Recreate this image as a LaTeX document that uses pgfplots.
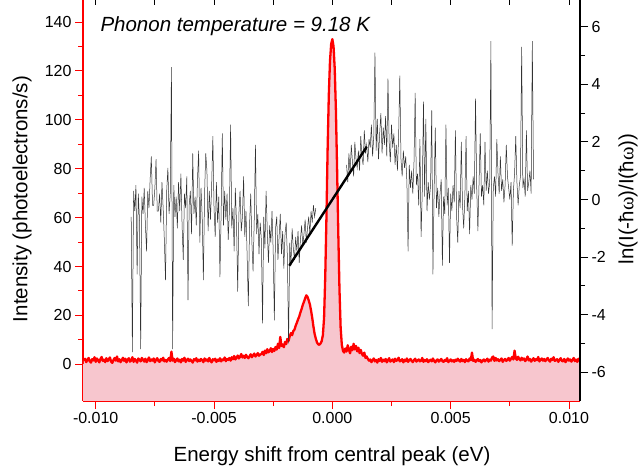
\documentclass[border=0pt]{standalone}
\usepackage{fontspec}
\setmainfont{Liberation Sans}
\newfontfamily\serifw{Liberation Serif}
\usepackage{pgfplots}
\pgfplotsset{compat=1.18}
\usepackage{pgfplotstable}
\definecolor{pinkfill}{RGB}{247,198,206}
\definecolor{myred}{RGB}{255,0,0}

% red spectrum, x = -0.0105 + 0.00005*i
\pgfplotstableread{
y
1.5
2.3
0.9
1.8
2.6
1.2
0.7
2.1
1.6
2.9
1.0
2.4
1.7
0.8
2.2
3.0
1.4
1.9
0.9
2.5
1.3
2.0
2.8
1.1
0.6
1.8
2.6
1.5
3.2
1.2
2.1
0.9
1.7
2.7
1.4
2.3
0.8
1.9
2.5
1.1
1.6
2.9
1.0
2.2
1.5
0.7
2.4
1.8
1.2
2.6
1.9
1.1
2.3
0.9
1.7
2.8
1.3
2.0
1.5
2.4
0.8
1.9
2.5
1.4
1.0
2.2
1.6
2.7
1.2
1.8
1.1
2.0
2.6
1.3
5.2
1.5
2.3
0.9
1.7
2.4
1.2
1.9
0.8
2.2
1.5
2.7
1.0
1.8
2.3
1.3
2.0
1.4
0.7
2.1
1.6
2.5
1.1
1.9
1.3
2.2
1.7
0.9
2.4
1.5
2.0
1.2
2.6
1.4
0.8
2.1
1.6
2.3
1.0
1.9
1.4
2.5
1.2
2.0
1.7
2.8
1.3
2.2
1.8
2.6
1.5
2.9
2.1
3.4
2.0
2.7
3.6
2.4
3.1
4.2
2.8
3.5
2.6
3.9
3.0
2.5
3.3
4.1
2.9
3.7
4.4
3.2
3.8
4.6
3.5
4.0
4.2
5.1
3.8
5.6
4.5
6.2
4.9
5.4
6.6
5.0
6.3
5.5
7.1
6.0
8.4
6.7
11.2
7.5
8.1
7.0
9.2
8.3
10.4
9.6
11.5
12.8
11.9
13.6
14.2
15.8
17.0
18.4
19.5
21.2
22.6
24.3
25.6
27.0
28.2
27.6
26.2
24.5
22.0
19.0
15.5
12.5
10.5
9.0
8.2
8.0
8.5
9.5
12
19
36
60
88
110
124
131
133
130
121
104
80
54
31
15
8
5.5
4.8
6.5
5.2
7.8
6.0
4.5
7.2
5.8
8.4
6.1
7.5
5.3
6.8
4.6
5.9
4.2
3.5
4.8
2.6
3.2
2.2
1.5
2.0
0.9
1.7
2.4
1.2
1.8
0.7
2.1
1.4
2.6
1.0
1.9
1.3
2.2
0.8
1.7
2.5
1.1
1.6
2.0
0.9
2.3
1.4
1.8
2.7
1.2
1.5
2.1
0.8
1.9
1.3
2.4
1.0
1.7
2.2
1.4
0.9
1.8
2.3
1.1
1.6
2.0
1.2
1.5
2.6
1.0
1.8
1.3
2.1
0.9
1.5
1.9
1.2
2.4
1.4
0.8
1.7
2.0
1.1
1.6
2.2
1.3
1.0
1.8
1.4
2.5
0.9
1.5
2.0
1.2
1.7
1.0
1.9
1.4
2.3
1.6
1.1
2.2
1.3
1.8
0.9
2.1
1.5
1.2
2.4
1.7
4.8
1.4
1.9
1.0
1.6
2.2
1.3
1.8
0.8
1.5
2.0
1.2
1.7
2.3
1.1
1.9
1.5
2.8
3.2
1.4
2.6
1.6
2.1
1.3
1.8
2.4
1.0
1.7
2.2
1.4
1.9
2.6
1.5
2.3
3.0
2.0
5.6
2.5
1.8
3.1
2.2
1.6
2.7
1.9
2.4
1.3
2.0
3.2
1.6
2.2
1.1
1.8
2.5
1.4
2.1
1.7
3.0
1.2
1.9
2.4
1.5
2.2
1.3
2.0
2.6
1.6
1.1
2.3
1.8
2.9
1.4
1.7
2.1
1.0
1.9
2.5
1.4
1.2
2.2
0.9
1.6
2.4
1.5
2.0
1.1
1.8
2.6
1.3
1.9
1.0
2.3
1.4
1.8
}\redtab

% ln ratio, left branch, x = -0.0085 + 0.00005*i
\pgfplotstableread{
y
-0.6
-5.3
0.3
-0.4
0.5
-2.6
0.2
-0.7
-5.2
0.1
-0.5
0.4
-0.9
-1.8
0.3
-0.3
0.7
1.5
-0.2
-0.2
0.4
1.4
-0.4
-0.4
0.2
-0.8
0.6
-0.3
-1.4
-2.8
0.3
1.1
-0.5
0.2
4.6
-5.2
0.5
-0.6
0.1
-1.0
0.6
-0.4
0.9
-0.9
-2.1
0.2
-0.3
0.8
-3.5
-0.2
0.3
-1.2
1.6
-0.5
0.1
-0.9
0.7
1.7
-1.5
0.4
-0.6
-2.8
0.2
1.6
1.0
-1.1
0.3
-0.7
0.5
2.2
-0.3
-1.3
0.6
-0.8
0.1
-2.7
-0.5
2.3
-0.9
0.3
-0.7
0.2
-1.4
-0.4
2.6
-1.0
-0.3
-1.8
0.4
-0.8
-3.2
-0.5
0.3
-1.1
-0.6
0.8
-1.3
-0.4
-2.0
-3.7
-0.9
0.2
-1.5
-2.5
-0.7
1.9
-1.2
-0.5
-1.9
-0.8
-1.4
-4.3
-0.6
-1.7
0.3
-1.1
-2.2
-0.9
-1.5
-0.4
-1.8
-4.2
-1.0
-0.6
-2.1
-1.3
-0.5
-1.9
-1.1
-2.4
-1.2
-0.8
-2.0
-5.0
-1.5
-2.3
-1.0
-1.7
-2.1
-1.3
-1.8
-1.1
-2.2
-1.4
-0.9
-1.6
-1.2
-0.7
-1.5
-1.0
-0.6
-1.2
-0.4
-0.8
-0.2
-0.6
-0.3
}\graylefttab

% ln ratio, right branch, x = 0.0006 + 0.00005*i
\pgfplotstableread{
y
1.2
0.6
1.6
0.9
1.9
1.3
0.8
2.0
1.4
1.1
1.7
1.0
2.2
1.5
1.2
2.4
1.6
1.9
1.3
2.1
1.8
2.6
1.5
2.2
5.1
1.7
2.8
1.4
2.3
3.0
1.6
2.5
1.9
2.9
1.5
4.2
2.0
1.3
2.6
1.8
2.3
1.2
1.9
1.0
2.2
4.3
1.4
0.8
1.7
1.1
1.5
0.6
-1.8
1.2
0.4
1.0
0.2
1.3
3.7
0.5
0.9
-0.2
2.1
-1.3
0.3
3.4
0.1
2.8
-0.4
0.6
0.0
0.5
3.1
-2.6
0.3
2.5
-0.3
0.4
-0.6
0.2
0.7
-2.3
0.1
-0.5
2.6
-0.2
0.4
-2.2
0.2
-0.4
0.5
-0.1
2.4
-0.6
-1.5
0.3
-0.3
2.0
-0.2
-1.0
0.1
2.2
-0.4
0.3
-1.2
0.5
0.0
0.8
0.2
3.5
0.4
-1.1
0.6
2.3
0.1
0.5
-0.2
2.0
0.3
1.0
0.2
0.6
5.5
-4.5
0.4
0.8
0.1
2.1
0.9
0.2
1.5
0.3
0.7
-0.1
0.5
1.9
0.8
0.4
0.0
0.6
-1.6
0.3
0.9
2.2
0.6
-0.2
0.5
0.8
5.3
0.4
0.7
0.1
2.4
0.3
0.6
1.0
0.2
5.5
0.7
}\grayrighttab

\newcommand{\tickfont}{\fontsize{16bp}{19bp}\selectfont}
\newcommand{\labfont}{\fontsize{20.5bp}{24bp}\selectfont}

\begin{document}
\begin{tikzpicture}
\useasboundingbox (0bp,0bp) rectangle (639bp,471bp);

% ---------- left axis: intensity ----------
\begin{axis}[
  at={(83bp,70bp)}, anchor=south west,
  scale only axis, width=497bp, height=401bp,
  xmin=-0.010537, xmax=0.010465, ymin=-15, ymax=149,
  axis x line*=bottom, axis y line*=left,
  axis line style={-, myred, line width=1.4bp},
  tick style={myred, line width=1bp},
  tick align=outside, major tick length=8bp, minor tick length=5bp,
  xtick={-0.01,-0.005,0,0.005,0.01},
  xticklabels={-0.010,-0.005,0.000,0.005,0.010},
  scaled x ticks=false,
  minor x tick num=1,
  ytick={0,20,40,60,80,100,120,140},
  yticklabels={0,20,40,60,80,100,120,140},
  minor y tick num=1,
  ticklabel style={font=\tickfont, black},
]
\addplot[fill=pinkfill, draw=none] coordinates {(-0.0106,-15) (0.0106,-15) (0.0106,0.3) (-0.0106,0.3)} -- cycle;
\addplot[fill=pinkfill, draw=none] table[x expr={-0.0105+0.00005*\coordindex}, y=y] {\redtab} \closedcycle;
\addplot[myred, line width=2.3bp, line join=round] table[x expr={-0.0105+0.00005*\coordindex}, y=y] {\redtab};
\end{axis}

% ---------- right axis: ln ratio ----------
\begin{axis}[
  at={(83bp,70bp)}, anchor=south west,
  scale only axis, width=497bp, height=401bp,
  xmin=-0.010537, xmax=0.010465, ymin=-7, ymax=6.93,
  axis x line=none, axis y line*=right,
  axis line style={-, black, line width=1.4bp},
  tick style={black, line width=1bp},
  tick align=outside, major tick length=8bp, minor tick length=5bp,
  ytick={-6,-4,-2,0,2,4,6},
  yticklabels={-6,-4,-2,0,2,4,6},
  minor y tick num=1,
  ticklabel style={font=\tickfont, black},
]
\addplot[black!80, line width=0.5bp] table[x expr={-0.0085+0.00005*\coordindex}, y=y] {\graylefttab};
\addplot[black!80, line width=0.5bp] table[x expr={0.0006+0.00005*\coordindex}, y=y] {\grayrighttab};
\addplot[black, line width=2.4bp] coordinates {(-0.00182,-2.30) (0.00145,1.83)};
\end{axis}

% ---------- top ticks ----------
\begin{axis}[
  at={(83bp,70bp)}, anchor=south west,
  scale only axis, width=497bp, height=401bp,
  xmin=-0.010537, xmax=0.010465, ymin=0, ymax=1,
  axis x line*=top, axis y line=none,
  axis line style={draw=none},
  xtick={-0.01,-0.005,0,0.005,0.01}, xticklabels={},
  scaled x ticks=false,
  minor x tick num=1,
  tick align=inside, major tick length=5bp, minor tick length=5bp,
  tick style={black, line width=1bp},
]
\addplot[draw=none] coordinates {(0,0.5)};
\end{axis}

% ---------- labels ----------
\node[rotate=90, font=\labfont] at (22bp,272bp) {Intensity (photoelectrons/s)};
\node[rotate=90, font=\labfont] at (628bp,272bp) {ln(I(-ħ{\serifw ω})/I(ħ{\serifw ω}))};
\node[anchor=base, font=\labfont] at (332bp,10bp) {Energy shift from central peak (eV)};
\node[anchor=base west, font=\labfont\itshape] at (97bp,439bp) {Phonon temperature = 9.18 K};
\end{tikzpicture}
\end{document}
